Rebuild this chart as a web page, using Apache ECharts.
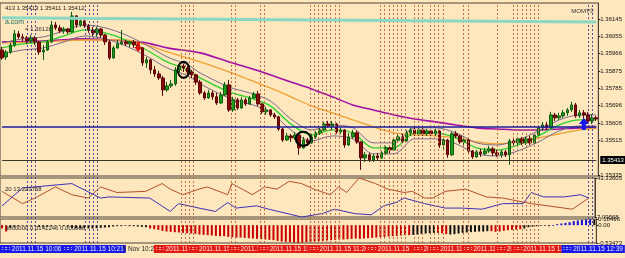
<!DOCTYPE html>
<html>
<head>
<meta charset="utf-8">
<script src="https://cdn.jsdelivr.net/npm/echarts@6/dist/echarts.min.js"></script>
<style>
html, body { margin: 0; padding: 0; background: #FFE7BD; }
#chart { width: 625px; height: 258px; }
</style>
</head>
<body>
<div id="chart"></div>
<script>
// EURUSD M1, 2011.11.15 ~10:06 - 12:30
var opens = [1.35984,1.35948,1.35974,1.36010,1.36068,1.36052,1.36047,1.36031,1.36047,1.36026,
    1.35974,1.35984,1.36026,1.36114,1.36099,1.36083,1.36093,1.36078,1.36161,1.36114,
    1.36135,1.36109,1.36088,1.36073,1.36093,1.36062,1.36026,1.35943,1.35995,1.36016,
    1.36026,1.36016,1.36026,1.36010,1.35995,1.35917,1.35933,1.35881,1.35860,1.35839,
    1.35777,1.35798,1.35808,1.35881,1.35901,1.35891,1.35870,1.35855,1.35818,1.35761,
    1.35735,1.35761,1.35741,1.35709,1.35751,1.35803,1.35673,1.35725,1.35683,1.35725,
    1.35704,1.35735,1.35756,1.35704,1.35663,1.35673,1.35647,1.35637,1.35574,1.35517,
    1.35538,1.35528,1.35543,1.35476,1.35517,1.35502,1.35533,1.35554,1.35569,1.35600,
    1.35590,1.35600,1.35559,1.35569,1.35491,1.35533,1.35554,1.35507,1.35424,1.35440,
    1.35414,1.35434,1.35424,1.35450,1.35476,1.35465,1.35517,1.35533,1.35512,1.35554,
    1.35569,1.35549,1.35569,1.35549,1.35564,1.35549,1.35564,1.35491,1.35517,1.35440,
    1.35549,1.35538,1.35507,1.35517,1.35460,1.35429,1.35455,1.35445,1.35460,1.35471,
    1.35450,1.35440,1.35455,1.35440,1.35512,1.35502,1.35523,1.35502,1.35523,1.35502,
    1.35543,1.35580,1.35595,1.35580,1.35647,1.35632,1.35642,1.35658,1.35673,1.35699,
    1.35642,1.35658,1.35647,1.35616,1.35632];
var closes = [1.35943,1.35974,1.36010,1.36068,1.36052,1.36047,1.36031,1.36047,1.36026,1.35974,
    1.35984,1.36026,1.36114,1.36099,1.36083,1.36093,1.36078,1.36161,1.36114,1.36135,
    1.36109,1.36088,1.36073,1.36093,1.36062,1.36026,1.35943,1.35995,1.36016,1.36026,
    1.36016,1.36026,1.36010,1.35995,1.35917,1.35933,1.35881,1.35860,1.35839,1.35777,
    1.35798,1.35808,1.35881,1.35901,1.35891,1.35870,1.35855,1.35818,1.35761,1.35735,
    1.35761,1.35741,1.35709,1.35751,1.35803,1.35673,1.35725,1.35683,1.35725,1.35704,
    1.35735,1.35756,1.35704,1.35663,1.35673,1.35647,1.35637,1.35574,1.35517,1.35538,
    1.35528,1.35543,1.35476,1.35517,1.35502,1.35533,1.35554,1.35569,1.35600,1.35590,
    1.35600,1.35559,1.35569,1.35491,1.35533,1.35554,1.35507,1.35424,1.35440,1.35414,
    1.35434,1.35424,1.35450,1.35476,1.35465,1.35517,1.35533,1.35512,1.35554,1.35569,
    1.35549,1.35569,1.35549,1.35564,1.35549,1.35564,1.35491,1.35517,1.35440,1.35549,
    1.35538,1.35507,1.35517,1.35460,1.35429,1.35455,1.35445,1.35460,1.35471,1.35450,
    1.35440,1.35455,1.35440,1.35512,1.35502,1.35523,1.35502,1.35523,1.35502,1.35543,
    1.35580,1.35595,1.35580,1.35647,1.35632,1.35642,1.35658,1.35673,1.35699,1.35642,
    1.35658,1.35647,1.35616,1.35632,1.35626];
var lows = [1.35933,1.35933,1.35964,1.36000,1.36042,1.36031,1.36016,1.36021,1.36010,1.35959,
    1.35933,1.35979,1.36021,1.36088,1.36073,1.36068,1.36068,1.36073,1.36099,1.36104,
    1.36099,1.36073,1.36057,1.36052,1.36047,1.36010,1.35933,1.35938,1.35990,1.36010,
    1.36005,1.36000,1.35995,1.35984,1.35901,1.35891,1.35860,1.35844,1.35829,1.35746,
    1.35767,1.35787,1.35798,1.35870,1.35870,1.35855,1.35839,1.35803,1.35751,1.35725,
    1.35730,1.35725,1.35699,1.35704,1.35746,1.35663,1.35663,1.35673,1.35678,1.35694,
    1.35699,1.35730,1.35694,1.35652,1.35647,1.35637,1.35626,1.35564,1.35507,1.35512,
    1.35507,1.35517,1.35440,1.35471,1.35486,1.35497,1.35523,1.35543,1.35564,1.35580,
    1.35569,1.35549,1.35549,1.35476,1.35486,1.35523,1.35497,1.35362,1.35403,1.35403,
    1.35403,1.35414,1.35419,1.35440,1.35445,1.35460,1.35502,1.35502,1.35507,1.35538,
    1.35538,1.35538,1.35538,1.35538,1.35538,1.35538,1.35476,1.35471,1.35424,1.35434,
    1.35528,1.35497,1.35491,1.35450,1.35419,1.35424,1.35429,1.35440,1.35450,1.35434,
    1.35429,1.35424,1.35429,1.35388,1.35486,1.35491,1.35491,1.35491,1.35491,1.35497,
    1.35538,1.35564,1.35569,1.35574,1.35616,1.35621,1.35632,1.35642,1.35663,1.35632,
    1.35632,1.35621,1.35600,1.35600,1.35616];
var highs = [1.36000,1.35984,1.36021,1.36088,1.36083,1.36068,1.36057,1.36062,1.36057,1.36031,
    1.36010,1.36036,1.36135,1.36130,1.36114,1.36104,1.36099,1.36182,1.36166,1.36145,
    1.36140,1.36119,1.36104,1.36104,1.36099,1.36068,1.36036,1.36005,1.36036,1.36088,
    1.36036,1.36031,1.36036,1.36021,1.36000,1.35948,1.35938,1.35901,1.35876,1.35850,
    1.35818,1.35829,1.35896,1.35917,1.35912,1.35901,1.35881,1.35860,1.35829,1.35772,
    1.35777,1.35772,1.35761,1.35767,1.35818,1.35829,1.35741,1.35735,1.35741,1.35735,
    1.35746,1.35767,1.35772,1.35709,1.35689,1.35678,1.35658,1.35642,1.35580,1.35554,
    1.35549,1.35559,1.35549,1.35533,1.35528,1.35549,1.35564,1.35580,1.35611,1.35616,
    1.35616,1.35606,1.35580,1.35574,1.35554,1.35569,1.35564,1.35512,1.35455,1.35450,
    1.35445,1.35450,1.35460,1.35486,1.35491,1.35528,1.35543,1.35549,1.35569,1.35580,
    1.35585,1.35580,1.35580,1.35574,1.35574,1.35574,1.35569,1.35533,1.35523,1.35559,
    1.35564,1.35543,1.35533,1.35523,1.35465,1.35465,1.35471,1.35476,1.35486,1.35481,
    1.35465,1.35465,1.35465,1.35523,1.35533,1.35533,1.35533,1.35533,1.35538,1.35554,
    1.35590,1.35611,1.35611,1.35663,1.35658,1.35658,1.35673,1.35683,1.35715,1.35709,
    1.35673,1.35673,1.35663,1.35652,1.35642];

// moving averages, [bar, price]
var maFast = [[0,1.35995],[5,1.36016],[10,1.36026],[15,1.36057],[20,1.36088],[25,1.36073],[30,1.36036],
    [35,1.35984],[40,1.35922],[45,1.35881],[48,1.35839],[55,1.35767],[60,1.35735],[65,1.35694],
    [70,1.35600],[75,1.35543],[80,1.35569],[85,1.35554],[90,1.35476],[95,1.35476],[100,1.35554],
    [105,1.35554],[110,1.35528],[115,1.35476],[120,1.35465],[125,1.35491],[130,1.35538],
    [135,1.35595],[140,1.35621],[144,1.35621]];
var bandUp = [[0,1.36021],[5,1.36042],[10,1.36052],[15,1.36083],[20,1.36114],[25,1.36099],[30,1.36062],
    [35,1.36010],[40,1.35948],[45,1.35907],[48,1.35865],[55,1.35792],[60,1.35761],[65,1.35720],
    [70,1.35626],[75,1.35569],[80,1.35595],[85,1.35580],[90,1.35502],[95,1.35502],[100,1.35580],
    [105,1.35580],[110,1.35554],[115,1.35502],[120,1.35491],[125,1.35517],[130,1.35564],
    [135,1.35621],[140,1.35647],[144,1.35647]];
var bandDn = [[0,1.35964],[5,1.35984],[10,1.35995],[15,1.36026],[20,1.36057],[25,1.36042],[30,1.36005],
    [35,1.35953],[40,1.35891],[45,1.35850],[48,1.35808],[55,1.35735],[60,1.35704],[65,1.35663],
    [70,1.35569],[75,1.35512],[80,1.35538],[85,1.35523],[90,1.35445],[95,1.35445],[100,1.35523],
    [105,1.35523],[110,1.35497],[115,1.35445],[120,1.35434],[125,1.35460],[130,1.35507],
    [135,1.35564],[140,1.35590],[144,1.35590]];
var maMid = [[0,1.36021],[10,1.36026],[20,1.36036],[30,1.36036],[35,1.36010],[40,1.35974],[48,1.35922],
    [55,1.35870],[60,1.35829],[65,1.35787],[70,1.35741],[75,1.35694],[80,1.35658],[85,1.35621],
    [90,1.35585],[95,1.35554],[100,1.35543],[105,1.35538],[110,1.35528],[115,1.35507],[120,1.35497],
    [125,1.35507],[130,1.35528],[135,1.35549],[140,1.35569],[144,1.35580]];
var maSlow = [[0,1.36026],[10,1.36031],[20,1.36042],[30,1.36031],[35,1.36021],[40,1.35995],[48,1.35969],
    [55,1.35922],[60,1.35891],[65,1.35855],[70,1.35818],[75,1.35782],[80,1.35741],[85,1.35699],
    [90,1.35673],[95,1.35647],[100,1.35626],[105,1.35611],[110,1.35595],[115,1.35580],[120,1.35574],
    [125,1.35569],[130,1.35569],[135,1.35574],[140,1.35580],[144,1.35580]];

var priceTicks = [1.36145, 1.36055, 1.35966, 1.35875, 1.35785, 1.35696, 1.35605, 1.35515, 1.35335];
var bidPrice = 1.35413;
var levelPrice = 1.35585;
var trendLine = [1.36151, 1.36130];

// second window: two lines
var diBlue = [[0,17.45],[5,34.02],[17,38.16],[24,24.70],[26,25.74],[36,24.70],[41,12.27],[43,19.52],
    [48,15.38],[52,12.27],[55,20.56],[57,15.38],[62,17.45],[65,14.35],[73,7.10],[78,10.20],[81,14.35],
    [86,10.20],[90,9.17],[93,17.45],[96,20.56],[98,24.70],[103,19.52],[108,15.38],[112,15.38],
    [117,14.35],[122,19.52],[127,19.52],[129,29.88],[132,25.74],[137,25.74],[141,27.81],[143,24.70]];
var diBrown = [[0,30.91],[5,19.52],[8,24.70],[13,35.05],[17,27.81],[21,24.70],[24,35.05],[28,29.88],
    [35,30.91],[39,38.16],[41,32.98],[44,27.81],[48,32.98],[50,35.05],[55,27.81],[56,38.16],[61,27.81],
    [64,35.05],[67,32.98],[70,40.23],[73,38.16],[76,32.98],[80,27.81],[82,35.05],[84,29.88],[87,43.34],
    [91,38.16],[94,32.98],[98,29.88],[100,30.91],[103,24.70],[105,24.70],[108,30.91],[113,32.98],
    [118,25.74],[122,24.70],[129,19.52],[139,14.35],[141,19.52],[143,24.70]];

// third window: momentum histogram
var mom = [-0.10,-0.19,-0.08,-0.05,-0.03,-0.02,-0.02,-0.02,-0.03,-0.05,
    -0.06,-0.05,-0.03,-0.02,-0.02,-0.03,-0.04,-0.08,-0.09,-0.10,
    -0.09,-0.10,-0.10,-0.09,-0.08,-0.07,-0.06,-0.04,-0.03,-0.03,
    -0.02,-0.03,-0.03,-0.04,-0.05,-0.06,-0.10,-0.12,-0.14,-0.17,
    -0.19,-0.20,-0.21,-0.22,-0.23,-0.24,-0.25,-0.26,-0.28,-0.29,
    -0.30,-0.31,-0.32,-0.33,-0.33,-0.35,-0.36,-0.37,-0.37,-0.38,
    -0.39,-0.40,-0.41,-0.42,-0.43,-0.44,-0.45,-0.47,-0.49,-0.50,
    -0.51,-0.52,-0.53,-0.52,-0.51,-0.50,-0.49,-0.48,-0.47,-0.46,
    -0.45,-0.44,-0.43,-0.43,-0.42,-0.41,-0.40,-0.41,-0.40,-0.39,
    -0.38,-0.37,-0.36,-0.35,-0.34,-0.33,-0.32,-0.31,-0.30,-0.30,
    -0.29,-0.28,-0.26,-0.25,-0.24,-0.23,-0.23,-0.24,-0.27,-0.28,
    -0.27,-0.25,-0.23,-0.22,-0.21,-0.20,-0.19,-0.19,-0.18,-0.18,
    -0.20,-0.19,-0.17,-0.15,-0.14,-0.13,-0.12,-0.10,-0.06,-0.04,
    -0.03,-0.02,-0.02,-0.03,-0.02,0.03,0.05,0.07,0.09,0.12,
    0.14,0.16,0.17,0.18,0.17];
// d = falling, f = flat/rising, u = above zero
var momState = 'ddffffffffffffffffffffffffffffffffffddddddddddddddddddddddddddddddddddddddddddddddddddddddddddddddddffffffddd' +
    'ffffffffffddddddddfffffffuuuuuuuuuu';

var blueMarks = [6, 7, 8, 20, 21, 22, 23, 141, 142];
var redMarks = [43, 44, 45, 46, 55, 56, 62, 63, 74, 75, 76, 77, 78, 79, 80, 81, 91, 92, 93, 94, 95, 96, 97,
    99, 100, 101, 103, 104, 105, 106, 111, 112, 119, 123, 124, 125, 126, 127, 128, 129];

// [bar, text, kind]
var timeBoxes = [
    [0, '\u2237\u2237 2011.11.15 10:06', 'buy'],
    [15, '\u2237\u2237 2011.11.15 10:21', 'buy'],
    [29, '5 Nov 10:27', 'plain'],
    [37, '\u2237\u2237 2011.11.15 10:41', 'sell'],
    [45, '\u2237\u2237 2011.11.15 10:49', 'sell'],
    [55, '\u2237\u2237 2011.11.15 11:00', 'sell'],
    [62, '\u2237\u2237 2011.11.15 11:08', 'sell'],
    [74, '\u2237\u2237 2011.11.15 11:20', 'sell'],
    [88, '\u2237\u2237 2011.11.15 11:34', 'sell'],
    [99, '\u2237\u2237 2011.11.15 11:45', 'sell'],
    [103, '\u2237\u2237 2011.11.15 11:49', 'sell'],
    [111, '\u2237\u2237 2011.11.15 11:57', 'sell'],
    [119, '\u2237\u2237 2011.11.15 12:05', 'sell'],
    [123, '\u2237\u2237 2011.11.15 12:06', 'sell'],
    [135, '\u2237\u2237 2011.11.15 12:39', 'buy']
];

var times = [];
for (var i = 0; i < opens.length; i++) {
    var m = 6 + i;
    var hh = 10 + Math.floor(m / 60), mm = m % 60;
    times.push('2011.11.15 ' + hh + ':' + (mm < 10 ? '0' : '') + mm);
}
var candles = [];
for (var k = 0; k < opens.length; k++) candles.push([opens[k], closes[k], lows[k], highs[k]]);
var lastBar = times.length - 1;

var stateColor = { d: '#c80000', f: '#111111', u: '#1010d8' };
var momBars = mom.map(function (v, k) {
    return { value: v, itemStyle: { color: stateColor[momState.charAt(k)] || '#111' } };
});

var vLines = [];
blueMarks.forEach(function (x) { vLines.push({ xAxis: x, lineStyle: { color: '#5a4a9a' } }); });
redMarks.forEach(function (x) { vLines.push({ xAxis: x, lineStyle: { color: '#c0704a' } }); });

var boxStyle = {
    buy: { bg: '#1a1ae8', fg: '#e8e8ff' },
    sell: { bg: '#e41a14', fg: '#ffe8e0' },
    plain: { bg: 'rgba(0,0,0,0)', fg: '#222' }
};

var FONT = 'Liberation Sans';
var border = '#4a4236';
var hiddenX = function (g) {
    return { type: 'category', gridIndex: g, data: times, boundaryGap: true,
        axisLine: { show: false }, axisTick: { show: false }, axisLabel: { show: false }, splitLine: { show: false } };
};
var rightAxis = function (g, min, max, ticks, digits) {
    return {
        type: 'value', gridIndex: g, position: 'right', min: min, max: max,
        splitLine: { show: false },
        axisLine: { show: true, lineStyle: { color: border, width: 1 } },
        axisTick: { show: true, customValues: ticks, length: 2, lineStyle: { color: '#222' } },
        axisLabel: { customValues: ticks, fontSize: 6, fontFamily: FONT, color: '#111', margin: 2,
            formatter: function (v) { return v === 0 ? '0.00' : v.toFixed(digits); } }
    };
};
var hLine = function (price, style, label) {
    return [{ coord: [0, price], lineStyle: style, label: label || { show: false } }, { coord: [lastBar, price] }];
};

var chart = echarts.init(document.getElementById('chart'), null, { renderer: 'canvas' });
var option = {
    backgroundColor: '#FFE7BD',
    animation: false,
    title: [
        { text: '413 1.35413 1.35411 1.35412', left: 0, top: 0,
            textStyle: { fontSize: 6, fontWeight: 'normal', color: '#222', fontFamily: FONT } },
        { text: 'MOMT\u00a9', right: 26, top: 3,
            textStyle: { fontSize: 6, fontWeight: 'normal', color: '#333', fontFamily: FONT } },
        { text: 'a.com', left: 0, top: 14,
            textStyle: { fontSize: 7, fontWeight: 'normal', color: '#1a6a5a', fontFamily: FONT } },
        { text: '= 1.36128', left: 20, top: 21,
            textStyle: { fontSize: 6, fontWeight: 'normal', color: '#333', fontFamily: FONT } },
        { text: '20 13.223758', left: 0, top: 181,
            textStyle: { fontSize: 6, fontWeight: 'normal', color: '#222', fontFamily: FONT } },
        { text: '0000000 0.0141246 0.000000', left: 0, top: 220,
            textStyle: { fontSize: 6, fontWeight: 'normal', color: '#222', fontFamily: FONT } }
    ],
    grid: [
        { left: 0, right: 22, top: 3, height: 173, show: true, borderColor: border, borderWidth: 1 },
        { left: 0, right: 22, top: 178, height: 39, show: true, borderColor: border, borderWidth: 1 },
        { left: 0, right: 22, top: 219, height: 24, show: true, borderColor: border, borderWidth: 1 },
        { left: 0, right: 22, top: 3, height: 240 },
        { left: 0, right: 22, top: 245, height: 9 }
    ],
    xAxis: [hiddenX(0), hiddenX(1), hiddenX(2), hiddenX(3), hiddenX(4)],
    yAxis: [
        rightAxis(0, 1.35330, 1.36228, priceTicks, 5),
        rightAxis(1, 7.09568, 43.33605, [43.33605, 7.09568], 5),
        rightAxis(2, -0.53473, 0.184958, [0.184958, 0, -0.53473], 5),
        { type: 'value', gridIndex: 3, min: 0, max: 1, show: false },
        { type: 'value', gridIndex: 4, min: 0, max: 1, show: false }
    ],
    series: [
        {
            type: 'line', xAxisIndex: 3, yAxisIndex: 3, data: [], z: 1, silent: true,
            markLine: { symbol: ['none', 'none'], silent: true, label: { show: false },
                lineStyle: { type: [2, 2], width: 1 }, data: vLines }
        },
        {
            // horizontal objects on the price window
            type: 'line', xAxisIndex: 0, yAxisIndex: 0, data: [], z: 2, silent: true,
            markLine: {
                symbol: ['none', 'none'], silent: true, label: { show: false },
                data: [
                    [{ coord: [0, trendLine[0]], lineStyle: { color: '#8ad8c4', width: 3, type: 'solid' } },
                        { coord: [lastBar, trendLine[1]] }],
                    hLine(levelPrice, { color: '#1c1ca0', width: 1.5, type: 'solid' }),
                    hLine(bidPrice, { color: '#3a3526', width: 1, type: 'solid' },
                        { show: true, position: 'end', formatter: '1.35413', color: '#fff', backgroundColor: '#000',
                            fontSize: 6, fontFamily: FONT, padding: [1, 2], distance: 4 })
                ]
            }
        },
        {
            type: 'candlestick', xAxisIndex: 0, yAxisIndex: 0, data: candles, barWidth: 3, z: 3,
            itemStyle: { color: '#1aa01a', color0: '#8a0a0a', borderColor: '#0e5a0e', borderColor0: '#5a0505', borderWidth: 1 },
            markPoint: {
                silent: true, label: { show: false },
                data: [
                    { coord: [33, 1.36000], symbol: 'path://M3,0 L7,0 L7,5 L10,5 L5,10 L0,5 L3,5 Z', symbolSize: [8, 10], itemStyle: { color: '#e01010' } },
                    { coord: [141, 1.35600], symbol: 'path://M5,0 L10,5 L7,5 L7,10 L3,10 L3,5 L0,5 Z', symbolSize: [10, 12], itemStyle: { color: '#1414f0' } },
                    { coord: [44, 1.35881], symbol: 'circle', symbolSize: [12, 16], itemStyle: { color: 'rgba(0,0,0,0)', borderColor: '#000', borderWidth: 2 } },
                    { coord: [73, 1.35523], symbol: 'circle', symbolSize: [15, 14], itemStyle: { color: 'rgba(0,0,0,0)', borderColor: '#000', borderWidth: 2 } }
                ]
            }
        },
        { type: 'line', xAxisIndex: 0, yAxisIndex: 0, data: maSlow, smooth: 0.3, showSymbol: false, z: 2, lineStyle: { color: '#a010a8', width: 1.6 } },
        { type: 'line', xAxisIndex: 0, yAxisIndex: 0, data: maMid, smooth: 0.3, showSymbol: false, z: 2, lineStyle: { color: '#eea030', width: 1.3 } },
        { type: 'line', xAxisIndex: 0, yAxisIndex: 0, data: bandUp, smooth: 0.3, showSymbol: false, z: 2, lineStyle: { color: '#7a6a8a', width: 1 } },
        { type: 'line', xAxisIndex: 0, yAxisIndex: 0, data: bandDn, smooth: 0.3, showSymbol: false, z: 2, lineStyle: { color: '#7a6a8a', width: 1 } },
        { type: 'line', xAxisIndex: 0, yAxisIndex: 0, data: maFast, smooth: 0.3, showSymbol: false, z: 2, lineStyle: { color: '#2ad02a', width: 1.3 } },
        { type: 'line', xAxisIndex: 1, yAxisIndex: 1, data: diBrown, showSymbol: false, lineStyle: { color: '#b0502a', width: 1 } },
        { type: 'line', xAxisIndex: 1, yAxisIndex: 1, data: diBlue, showSymbol: false, lineStyle: { color: '#3a32b8', width: 1 } },
        { type: 'bar', xAxisIndex: 2, yAxisIndex: 2, data: momBars, barWidth: 2 },
        {
            // time boxes along the bottom
            type: 'custom', xAxisIndex: 4, yAxisIndex: 4, silent: true, clip: false, z: 5,
            data: timeBoxes.map(function (b) { return [b[0], 1]; }),
            renderItem: function (params, api) {
                var b = timeBoxes[params.dataIndex];
                var p = api.coord([api.value(0), api.value(1)]);
                var half = api.size([1, 0])[0] / 2;
                var st = boxStyle[b[2]];
                return {
                    type: 'text', x: p[0] - half, y: p[1],
                    style: { text: b[1], fill: st.fg, backgroundColor: st.bg, padding: [1, 2, 0, 2],
                        font: '6.5px "Liberation Sans"', verticalAlign: 'top', align: 'left' }
                };
            }
        }
    ]
};
chart.setOption(option);
</script>
</body>
</html>
